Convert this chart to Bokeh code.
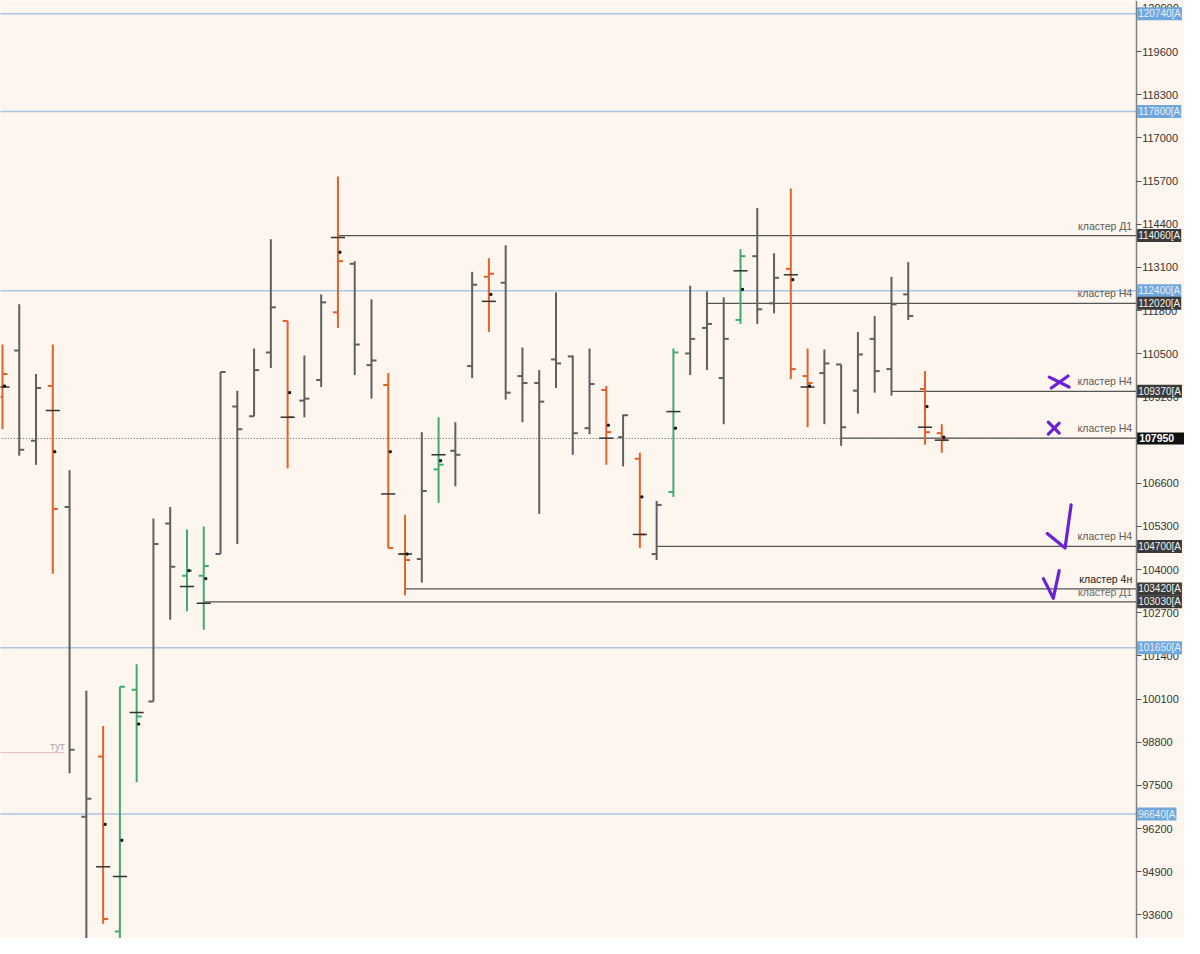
import numpy as np
from bokeh.plotting import figure
from bokeh.models import Range1d, LinearAxis, FixedTicker, Label, ColumnDataSource, BasicTickFormatter
from bokeh.core.properties import value
from bokeh.embed import file_html
from bokeh.resources import INLINE

nan = float("nan")

# ---- OHLC bars (index = bar number) ----
bar_high = [110780, 111990, 109890, 110780, 106990, 100350, 99290, 100470, 101150, 105540,
            105890, 105210, 105300, 109950, 109390, 110660, 113950, 111490, 110450, 112290,
            115840, 113290, 112140, 109920, 105650, 108140, 108590, 108440, 112970, 113380,
            113770, 110690, 110010, 112350, 110450, 110660, 109530, 108670, 107520, 106070,
            110660, 112550, 112380, 112200, 113650, 114890, 113530, 115480, 110660, 110630,
            110180, 111160, 111640, 112820, 113260, 109980, 108380]
bar_low = [108230, 107430, 107160, 103880, 97870, 92500, 93340, 92500, 97600, 100030,
           102490, 102750, 102190, 104470, 104770, 108620, 110070, 107050, 108590, 109500,
           111280, 109860, 109150, 104650, 103230, 103610, 106010, 106510, 109770, 111160,
           109120, 108440, 105680, 109470, 107460, 108080, 107160, 107110, 104650, 104290,
           106190, 109860, 110010, 108380, 111400, 111400, 111720, 109740, 108290, 108380,
           107730, 108700, 109330, 109240, 111520, 107760, 107520]
bar_open = [109210, 110600, 107880, 109530, 105890, 96560, 98370, 93100, 100380, 100030,
            105390, 103820, 103820, 104470, 108910, 108620, 110540, 111490, 109090, 109710,
            111750, 113210, 110160, 109560, 104470, 104320, 107020, 107580, 110130, 112820,
            112640, 109830, 109620, 110330, 110420, 108260, 109410, 107990, 107340, 104470,
            106340, 110510, 111280, 109770, 111520, 113440, 112020, 113060, 109830, 109920,
            110180, 109390, 110950, 110040, 112290, 109440, 108110]
bar_close = [109890, 107610, 109470, 105830, 98580, 97100, 93480, 100470, 99580, 104770,
             104090, 103970, 104110, 109950, 108230, 110010, 111900, 108590, 109150, 112050,
             113290, 110780, 110300, 104650, 104290, 106370, 107160, 107460, 112580, 112910,
             109330, 109620, 109060, 110210, 108110, 109590, 108140, 108650, 105060, 105950,
             110540, 110950, 111400, 110950, 113440, 111840, 112790, 110040, 109620, 110210,
             108290, 110480, 109980, 111990, 111640, 108140, 107900]
bar_kind = ["o", "g", "g", "o", "g", "g", "o", "G", "G", "g",
            "g", "G", "G", "g", "g", "g", "g", "o", "g", "g",
            "o", "g", "g", "o", "o", "g", "G", "g", "g", "o",
            "g", "g", "g", "g", "g", "g", "o", "g", "o", "g",
            "G", "g", "g", "g", "G", "g", "g", "o", "o", "g",
            "g", "g", "g", "g", "g", "o", "o"]
cross_level = [109500, nan, nan, 108790, nan, nan, 95050, 94760, 99700, nan,
               nan, 103490, 102990, nan, nan, nan, nan, 108590, nan, nan,
               114000, nan, nan, 106280, 104470, nan, 107460, nan, nan, 112080,
               nan, nan, nan, nan, nan, nan, 107960, nan, 105060, nan,
               108760, nan, nan, nan, 113000, nan, nan, 112880, 109500, nan,
               nan, nan, nan, nan, nan, 108290, 107900]
dot_level = [109530, nan, nan, 107550, nan, nan, 96330, 95850, 99350, nan,
             nan, 103970, 103730, nan, nan, nan, nan, 109330, nan, nan,
             113560, nan, nan, 107550, 104470, nan, 107280, nan, nan, 112290,
             nan, nan, nan, nan, nan, nan, 108350, nan, 106190, nan,
             108260, nan, nan, nan, 112440, nan, nan, 112730, 109530, nan,
             nan, nan, nan, nan, nan, 108910, 107990]

# ---- levels ----
blue_levels = [120740, 117800, 112400, 101650, 96640]
blue_tags = ["120740[A", "117800[A", "112400[A", "101650[A", "96640[A"]
cluster_levels = [114060, 112020, 109370, 107960, 104700, 103420, 103030]
cluster_start = [20, 42, 53, 50, 39, 24, 12]
cluster_names = ["кластер Д1", "кластер Н4", "кластер Н4", "кластер Н4", "кластер Н4", "кластер 4н", "кластер Д1"]
cluster_tag_levels = [114060, 112020, 109370, 104700, 103420, 103030]
cluster_tags = ["114060[A", "112020[A", "109370[A", "104700[A", "103420[A", "103030[A"]
last_price = 107950
tut_level = 98490
price_ticks = [120900, 119600, 118300, 117000, 115700, 114400, 113100, 111800, 110500, 109200,
               107900, 106600, 105300, 104000, 102700, 101400, 100100, 98800, 97500, 96200,
               94900, 93600]

# hand-drawn purple marks (bar units, price)
mark_xs = [[62.41, 63.59], [62.53, 63.53], [62.35, 63.0], [62.35, 63.0],
           [62.29, 63.35, 63.71], [62.06, 62.65, 63.0]]
mark_ys = [[109800, 109500], [109470, 109830], [108440, 108110], [108080, 108410],
           [105090, 104650, 105950], [103730, 103140, 103970]]

BG = "#fdf6ee"
palette = {"g": "#5f5f5f", "o": "#e2622b", "G": "#3fab72"}

FW, FH = 1184, 938
x0 = -2 / 17.0
x1 = (1200 - 2) / 17.0
axis_x = (1151 - 2) / 17.0
p = figure(frame_width=FW, frame_height=FH, output_backend="svg", toolbar_location=None,
           x_range=Range1d(x0, x1), y_range=Range1d(121140 - 29.61 * 954, 121140),
           x_axis_location=None, y_axis_location=None, min_border=0,
           background_fill_color=BG, border_fill_color=BG, outline_line_color=None)
p.grid.visible = False

n = len(bar_high)
xi = np.arange(n, dtype=float)
src = ColumnDataSource(dict(x=xi, xl=xi - 0.3, xr=xi + 0.3, xcl=xi - 0.42, xcr=xi + 0.42, xd=xi + 0.12,
                            h=bar_high, l=bar_low, o=bar_open, c=bar_close,
                            cr=cross_level, d=dot_level,
                            col=[palette[k] for k in bar_kind]))

# horizontal reference lines (blue)
for lv in blue_levels:
    p.segment(x0=x0 - 1, y0=lv, x1=axis_x, y1=lv, line_color="#a9c5e3", line_width=1.5)

# current price dotted line
p.segment(x0=x0 - 1, y0=last_price, x1=axis_x, y1=last_price, line_color="#555555",
          line_width=1.2, line_dash="1 2")

# cluster lines
p.segment(x0=cluster_start, y0=cluster_levels, x1=[axis_x] * len(cluster_levels), y1=cluster_levels,
          line_color="#555555", line_width=1.3)

# "тут" marker
p.segment(x0=x0 - 1, y0=tut_level, x1=3.7, y1=tut_level, line_color="#e9bcbc", line_width=1)
p.text(x=[3.7], y=[tut_level], text=["тут"], text_align="right", text_baseline="bottom",
       text_font=value("Liberation Sans"), text_font_size="10px", text_color="#a8a8a8", y_offset=-1)

# bars
p.segment(x0="x", y0="l", x1="x", y1="h", line_color="col", line_width=2, source=src)
p.segment(x0="xl", y0="o", x1="x", y1="o", line_color="col", line_width=2, source=src)
p.segment(x0="x", y0="c", x1="xr", y1="c", line_color="col", line_width=2, source=src)
p.segment(x0="xcl", y0="cr", x1="xcr", y1="cr", line_color="#333333", line_width=1.5, source=src)
p.scatter(x="xd", y="d", marker="square", size=2, color="#111111", source=src)

# cluster labels
p.text(x=[(1147 - 2) / 17.0] * len(cluster_levels), y=cluster_levels, text=cluster_names,
       text_align="right", text_baseline="middle", y_offset=-10,
       text_font=value("Liberation Sans"), text_font_size="10.5px",
       text_color=["#5a5a5a", "#5a5a5a", "#5a5a5a", "#5a5a5a", "#5a5a5a", "#1a1a1a", "#6a6a6a"])

# purple hand marks
p.multi_line(xs=mark_xs, ys=mark_ys, line_color="#6a22d4", line_width=3.2, line_cap="round",
             line_join="round")

# right axis drawn inside the frame at a fixed location
ax = LinearAxis(ticker=FixedTicker(ticks=price_ticks), fixed_location=axis_x,
                formatter=BasicTickFormatter(use_scientific=False),
                axis_line_color="#808080", axis_line_width=1.5,
                major_tick_line_color="#555555", major_tick_out=5, major_tick_in=0,
                minor_tick_line_color=None, major_label_standoff=1,
                major_label_text_font="Liberation Sans", major_label_text_font_size="11px",
                major_label_text_color="#333333")
p.add_layout(ax, "right")

# price tags on the axis
tag_x = (1152 - 2) / 17.0
for lv, t in zip(blue_levels, blue_tags):
    p.add_layout(Label(x=tag_x, y=lv, text=t, text_baseline="middle", text_align="left",
                       text_font="Liberation Sans", text_font_size="10px", text_color="#e6f0fb",
                       background_fill_color="#6fa6dc", background_fill_alpha=1.0, padding=1))
for lv, t in zip(cluster_tag_levels, cluster_tags):
    p.add_layout(Label(x=tag_x, y=lv, text=t, text_baseline="middle", text_align="left",
                       text_font="Liberation Sans", text_font_size="10px", text_color="#f2f2f2",
                       background_fill_color="#3a3a3a", background_fill_alpha=1.0, padding=1))
p.add_layout(Label(x=tag_x, y=last_price, text=str(last_price), text_baseline="middle", text_align="left",
                   text_font="Liberation Sans", text_font_size="10.5px", text_font_style="bold",
                   text_color="#ffffff", background_fill_color="#111111", background_fill_alpha=1.0,
                   padding=dict(left=2, right=12, top=2, bottom=2)))

open("out.html", "w").write(file_html(p, INLINE))
